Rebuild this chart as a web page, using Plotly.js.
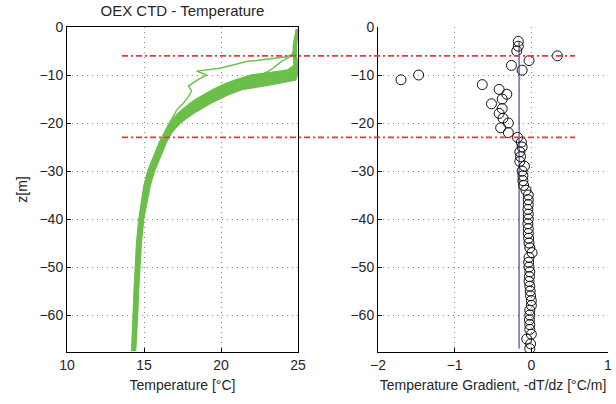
<!DOCTYPE html>
<html>
<head>
<meta charset="utf-8">
<script src="https://cdn.plot.ly/plotly-3.0.1.min.js"></script>
<style>html,body{margin:0;padding:0;background:#fff;}#chart{width:616px;height:404px;}</style>
</head>
<body>
<div id="chart"></div>
<script>
// ---- Temperature profiles (depth grid shared) ----
const depthGrid = [-0.5, -2, -4, -6, -8, -9, -10, -11, -12, -13, -14, -15, -16, -18, -20, -22, -24, -26, -28, -30, -33, -36, -40, -45, -50, -55, -60, -65, -67.5];
const tempCast1 = [24.9, 24.8, 24.7, 24.7, 24.75, 24.3, 22.0, 20.95, 20.15, 19.5, 18.9, 18.4, 17.95, 17.2, 16.65, 16.3, 16.0, 15.75, 15.5, 15.25, 15.0, 14.85, 14.67, 14.52, 14.42, 14.36, 14.3, 14.23, 14.2];
const tempCast2 = [24.95, 24.9, 24.75, 24.8, 24.85, 24.8, 23.3, 21.4, 20.55, 19.9, 19.25, 18.7, 18.2, 17.35, 16.75, 16.4, 16.1, 15.85, 15.57, 15.32, 15.07, 14.92, 14.73, 14.58, 14.49, 14.42, 14.36, 14.3, 14.25];
const tempCast3 = [24.95, 24.85, 24.8, 24.75, 24.8, 24.85, 24.8, 22.3, 21.1, 20.3, 19.6, 19.0, 18.5, 17.55, 16.9, 16.5, 16.2, 15.95, 15.65, 15.4, 15.15, 15.0, 14.8, 14.65, 14.55, 14.48, 14.42, 14.35, 14.3];
const tempCast4 = [24.9, 24.85, 24.8, 24.8, 24.9, 24.9, 24.85, 23.6, 21.6, 20.7, 19.95, 19.3, 18.8, 17.85, 17.1, 16.6, 16.3, 16.05, 15.8, 15.52, 15.25, 15.08, 14.88, 14.72, 14.62, 14.55, 14.48, 14.42, 14.36];
const tempCast5 = [24.95, 24.9, 24.85, 24.85, 24.9, 24.95, 24.9, 24.8, 22.3, 21.1, 20.3, 19.6, 19.05, 18.05, 17.25, 16.75, 16.4, 16.15, 15.9, 15.62, 15.35, 15.15, 14.95, 14.78, 14.68, 14.6, 14.54, 14.47, 14.42];
const tempCast6 = [25.0, 24.95, 24.9, 24.9, 24.95, 25.0, 24.95, 24.85, 23.3, 21.4, 20.55, 19.9, 19.25, 18.2, 17.35, 16.8, 16.45, 16.2, 15.95, 15.68, 15.4, 15.2, 14.98, 14.82, 14.72, 14.64, 14.58, 14.5, 14.45];

// cast with a gradual upper thermocline
const depthCast7 = [-0.5, -4, -6, -7, -8, -9, -10, -11, -12.2, -13, -14, -16, -18, -20, -22, -24, -26, -28, -30, -33, -36, -40, -45, -50, -55, -60, -65, -67];
const tempCast7 = [24.9, 24.8, 24.6, 24.0, 23.6, 23.2, 22.6, 21.4, 20.6, 19.6, 19.1, 18.2, 17.4, 16.8, 16.45, 16.15, 15.9, 15.6, 15.35, 15.1, 14.9, 14.72, 14.58, 14.5, 14.42, 14.38, 14.3, 14.27];

// anomalous (jagged) cast
const depthCast8 = [-0.5, -2, -4, -5.5, -6.2, -7.2, -8.6, -9.2, -10.0, -10.9, -12.3, -13.3, -14.5, -15.9, -17.3, -19.5, -21];
const tempCast8 = [24.95, 24.8, 24.7, 24.75, 24.27, 21.67, 19.94, 18.42, 19.07, 18.53, 17.88, 18.1, 17.88, 17.55, 17.12, 16.75, 16.6];

// ---- Temperature gradient (right panel) ----
const gradDepth = [-3, -4, -5, -6, -7, -8, -9, -10, -11, -12, -13, -14, -15, -16, -17, -18, -19, -20, -21, -22, -23, -24, -25, -26, -27, -28, -29, -30, -31, -32, -33, -34, -35,
  -36, -37, -38, -39, -40, -41, -42, -43, -44, -45, -46, -47, -48, -49, -50, -51, -52, -53, -54, -55, -56, -57, -58, -59, -60, -61, -62, -63, -64, -65, -66, -67];
const gradValue = [-0.17, -0.17, -0.19, 0.34, -0.03, -0.26, -0.12, -1.47, -1.70, -0.64, -0.42, -0.32, -0.38, -0.52, -0.38, -0.42, -0.37, -0.30, -0.40, -0.30, -0.18, -0.13, -0.12, -0.15, -0.14, -0.15, -0.09, -0.12, -0.11, -0.11, -0.10, -0.07, -0.04,
  -0.04, -0.04, -0.045, -0.04, -0.04, -0.045, -0.04, -0.04, -0.035, -0.03, -0.02, 0.01, -0.03, -0.035, -0.03, -0.02, -0.025, -0.03, -0.02, -0.015, -0.01, 0.0, 0.0, -0.02, -0.02, -0.025, -0.02, -0.02, 0.0, -0.06, -0.01, -0.02];
const meanGradient = [-0.16, -0.16];
const meanGradDepth = [-3, -67];

// ---- Layer boundaries (red dash-dot) ----
const layerDepths = [-6, -23];

const green = '#6cbf4a';
const font = 'Liberation Sans, Arial, Helvetica, sans-serif';
const txt = '#262626';

const traces = [];
// solid band between the outermost casts
traces.push({
  type: 'scatter', mode: 'lines', xaxis: 'x', yaxis: 'y',
  x: tempCast1.concat(tempCast6.slice().reverse()),
  y: depthGrid.concat(depthGrid.slice().reverse()),
  fill: 'toself', fillcolor: green, line: {color: green, width: 0.5}, showlegend: false, hoverinfo: 'skip'
});
const casts = [
  [depthGrid, tempCast1], [depthGrid, tempCast2], [depthGrid, tempCast3],
  [depthGrid, tempCast4], [depthGrid, tempCast5], [depthGrid, tempCast6],
  [depthCast7, tempCast7], [depthCast8, tempCast8]
];
casts.forEach(c => traces.push({
  type: 'scatter', mode: 'lines', x: c[1], y: c[0], xaxis: 'x', yaxis: 'y',
  line: {color: green, width: 1.4}, showlegend: false, hoverinfo: 'skip'
}));
traces.push({
  type: 'scatter', mode: 'lines', x: meanGradient, y: meanGradDepth, xaxis: 'x2', yaxis: 'y2',
  line: {color: '#1f2a7a', width: 1}, showlegend: false
});
traces.push({
  type: 'scatter', mode: 'markers', x: gradValue, y: gradDepth, xaxis: 'x2', yaxis: 'y2',
  marker: {symbol: 'circle-open', size: 10, color: '#111', line: {width: 1, color: '#111'}}, showlegend: false
});

const shapes = layerDepths.map(d => ({
  type: 'line', xref: 'paper', yref: 'y', x0: 122/616, x1: 575/616, y0: d, y1: d,
  line: {color: '#f53535', width: 1.8, dash: '6px,3px,2px,3px'}
}));

const yDom = [52/404, 377/404];
const common = {
  showline: true, linecolor: '#000', linewidth: 1, ticks: 'inside', ticklen: 4, tickcolor: '#000',
  showgrid: true, gridcolor: '#8a8a8a', gridwidth: 1, griddash: '1px,4px', zeroline: false,
  tickfont: {size: 14, color: txt, family: font}
};
const yTicks = [0, -10, -20, -30, -40, -50, -60];

const layout = {
  width: 616, height: 404,
  margin: {l: 0, r: 0, t: 0, b: 0},
  paper_bgcolor: '#fff', plot_bgcolor: '#fff',
  font: {family: font, color: txt},
  title: {text: 'OEX CTD - Temperature', x: 182.5/616, xanchor: 'center', y: 1 - 11/404, yanchor: 'middle', font: {size: 15, color: txt, family: font}},
  xaxis: Object.assign({}, common, {domain: [67/616, 298/616], range: [10, 25], tickvals: [10, 15, 20, 25], mirror: true, anchor: 'y',
    title: {text: 'Temperature [°C]', font: {size: 14, color: txt, family: font}, standoff: 8}}),
  yaxis: Object.assign({}, common, {domain: yDom, range: [-67.7, 0], tickvals: yTicks, mirror: true, anchor: 'x',
    title: {text: 'z[m]', font: {size: 14, color: txt, family: font}, standoff: 8}}),
  xaxis2: Object.assign({}, common, {domain: [378/616, 608/616], range: [-2, 1], tickvals: [-2, -1, 0, 1], mirror: false, anchor: 'y2',
    title: {text: 'Temperature Gradient, -dT/dz [°C/m]', font: {size: 14, color: txt, family: font}, standoff: 8}}),
  yaxis2: Object.assign({}, common, {domain: yDom, range: [-67.7, 0], tickvals: yTicks, mirror: false, anchor: 'x2'}),
  shapes: shapes
};

Plotly.newPlot('chart', traces, layout, {staticPlot: true, displayModeBar: false});
</script>
</body>
</html>
